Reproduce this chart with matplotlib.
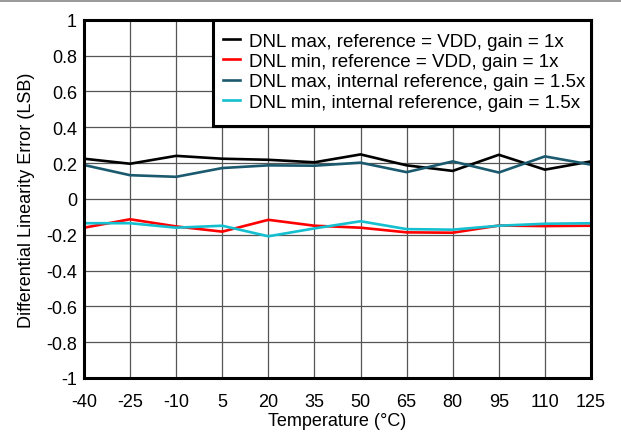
import matplotlib
matplotlib.use("Agg")
import matplotlib.pyplot as plt
from matplotlib.lines import Line2D
from matplotlib.patches import Rectangle

plt.rcParams['font.family'] = ['Liberation Sans', 'DejaVu Sans']

temperature = [-40, -25, -10, 5, 20, 35, 50, 65, 80, 95, 110, 125]
dnl_max_vdd = [0.224, 0.196, 0.240, 0.224, 0.218, 0.204, 0.248, 0.187, 0.156, 0.246, 0.163, 0.209]
dnl_min_vdd = [-0.161, -0.114, -0.154, -0.183, -0.117, -0.150, -0.161, -0.187, -0.189, -0.149, -0.152, -0.150]
dnl_max_int = [0.189, 0.132, 0.123, 0.172, 0.187, 0.185, 0.202, 0.149, 0.209, 0.147, 0.237, 0.191]
dnl_min_int = [-0.136, -0.136, -0.161, -0.150, -0.209, -0.165, -0.125, -0.169, -0.172, -0.150, -0.139, -0.136]

series_labels = [
    "DNL max, reference = VDD, gain = 1x",
    "DNL min, reference = VDD, gain = 1x",
    "DNL max, internal reference, gain = 1.5x",
    "DNL min, internal reference, gain = 1.5x",
]
series_colors = ["#000000", "#ff0000", "#1b5a6e", "#14bfd0"]
y_ticks = [1, 0.8, 0.6, 0.4, 0.2, 0, -0.2, -0.4, -0.6, -0.8, -1]
y_tick_labels = ["1", "0.8", "0.6", "0.4", "0.2", "0", "-0.2", "-0.4", "-0.6", "-0.8", "-1"]

W, H = 621, 435
fig = plt.figure(figsize=(W / 100, H / 100), dpi=100)
ax = fig.add_axes([84 / W, 1 - 379 / H, (591 - 84) / W, (379 - 20.7) / H])

for values, label, color in zip([dnl_max_vdd, dnl_min_vdd, dnl_max_int, dnl_min_int],
                                series_labels, series_colors):
    ax.plot(temperature, values, color=color, lw=1.9, label=label, zorder=3)

ax.set_xlim(-40, 125)
ax.set_ylim(-1, 1)
ax.set_xticks(temperature)
ax.set_xticklabels([str(t) for t in temperature])
ax.set_yticks(y_ticks)
ax.set_yticklabels(y_tick_labels)
ax.tick_params(axis='both', length=0, labelsize=13)
ax.tick_params(axis='x', pad=11)
ax.tick_params(axis='y', pad=5)
ax.grid(True, color='#555555', lw=0.9)

for spine in ax.spines.values():
    spine.set_linewidth(2.2)
    spine.set_color('black')
    spine.set_zorder(5)

ax.set_xlabel("Temperature (°C)", fontsize=13, labelpad=1)
ax.set_ylabel("Differential Linearity Error (LSB)", fontsize=13, labelpad=8)

# legend box drawn separately so its padding can differ horizontally and vertically
ax.add_patch(Rectangle((213 / W, 1 - 127 / H), (591 - 213) / W, (127 - 21) / H,
                       transform=fig.transFigure, facecolor='white', edgecolor='black',
                       lw=2.2, zorder=5.5, clip_on=False))
leg = ax.legend(loc='upper left', bbox_to_anchor=(223 / W, 1 - 33.5 / H),
                bbox_transform=fig.transFigure, fontsize=13.5, frameon=False,
                borderaxespad=0, borderpad=0, handlelength=0.9,
                handletextpad=0.5, labelspacing=0.17)
leg.set_zorder(6)

fig.add_artist(Line2D([0, 1], [1 - 2 / H, 1 - 2 / H], color='#888888', lw=1.2,
                      transform=fig.transFigure))

fig.savefig("out.png", dpi=100)
